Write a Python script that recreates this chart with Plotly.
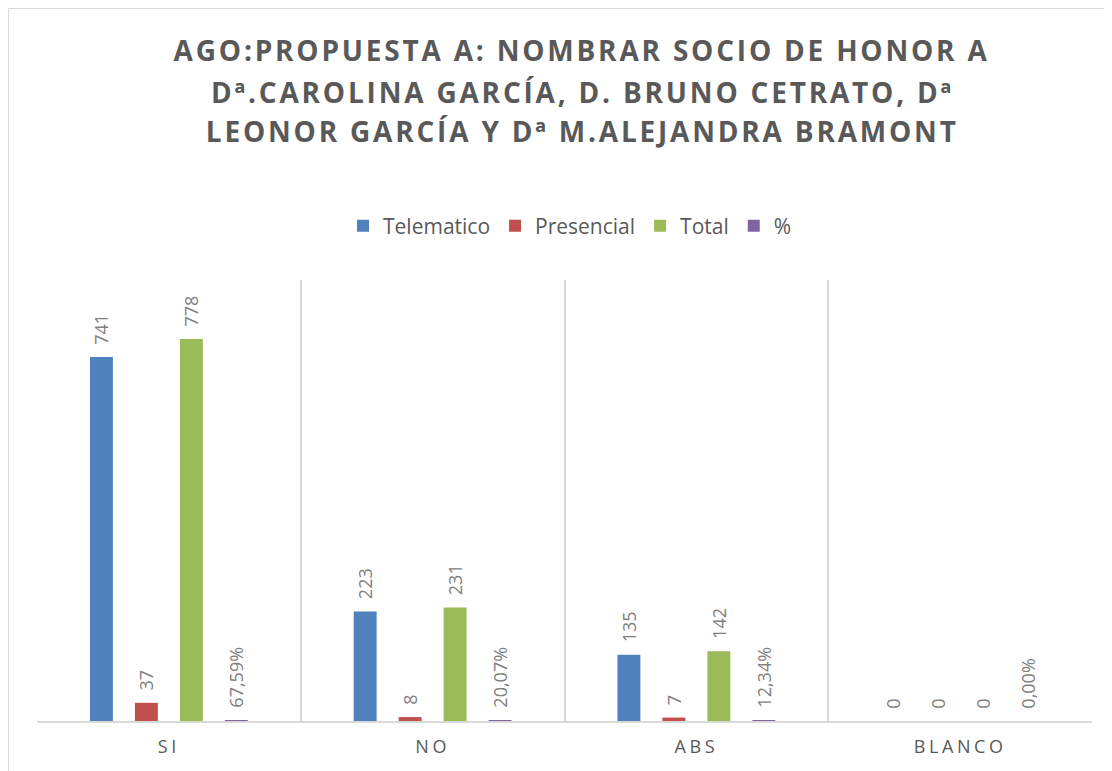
import plotly.graph_objects as go

categories = ["SI", "NO", "ABS", "BLANCO"]
telematico = [741, 223, 135, 0]
presencial = [37, 8, 7, 0]
total = [778, 231, 142, 0]
porcentaje = [0.6759, 0.2007, 0.1234, 0.0]

series_names = ["Telematico", "Presencial", "Total", "%"]
colors = ["#4f81bd", "#c0504d", "#9bbb59", "#8064a2"]

title_lines = ["AGO:PROPUESTA A: NOMBRAR SOCIO DE HONOR A",
               "Dª.CAROLINA GARCÍA, D. BRUNO CETRATO, Dª",
               "LEONOR GARCÍA Y Dª M.ALEJANDRA BRAMONT"]

OFF = 8  # default page body margin
W, H = 1112 - OFF, 771 - OFF
# plot area in screen pixels: x 37..1092, y 280..721
L, T = 37 - OFF, 280 - OFF
R = W - (1092 - OFF)
B = H - (721 - OFF)
pw, ph = W - L - R, H - T - B

def sx(px):
    return (px - OFF - L) / pw

def sy(py):
    return (H - B - (py - OFF)) / ph

pad = "\u00a0\u00a0"
fig = go.Figure()
for name, vals, col in zip(series_names, [telematico, presencial, total, porcentaje], colors):
    tmpl = pad + ("%{y:.2%}" if name == "%" else "%{y}")
    fig.add_trace(go.Bar(
        x=categories, y=vals, name=name,
        marker=dict(color=col, line=dict(width=0)),
        texttemplate=tmpl, textposition="outside", textangle=-90,
        constraintext="none", cliponaxis=False,
        textfont=dict(family="Open Sans", size=18, color="#808080"),
    ))

# chart border (top and left edges visible)
fig.add_shape(type="line", xref="paper", yref="paper",
              x0=sx(8.5), x1=sx(1200), y0=sy(8.5), y1=sy(8.5),
              line=dict(color="#d9d9d9", width=1))
fig.add_shape(type="line", xref="paper", yref="paper",
              x0=sx(8.5), x1=sx(8.5), y0=sy(8.5), y1=sy(900),
              line=dict(color="#d9d9d9", width=1))

for line, yc in zip(title_lines, [50, 92, 131]):
    fig.add_annotation(text=line, xref="paper", yref="paper",
                       x=sx(582), y=sy(yc), xanchor="center", yanchor="middle",
                       showarrow=False,
                       font=dict(family="Open Sans", size=28, color="#595959", weight="bold"))

fig.update_layout(
    width=W, height=H,
    margin=dict(l=L, r=R, t=T, b=B),
    paper_bgcolor="white", plot_bgcolor="white",
    separators=",.",
    barmode="group", bargap=0.318, bargroupgap=0.49,
    legend=dict(orientation="h", x=sx(570), xanchor="center",
                y=sy(226), yanchor="middle",
                font=dict(family="Open Sans", size=21, color="#595959"),
                traceorder="normal"),
    showlegend=True,
    xaxis=dict(tickson="boundaries", showgrid=True, gridcolor="#d9d9d9", gridwidth=2,
               showline=True, linecolor="#d9d9d9", linewidth=2, ticks="",
               tickfont=dict(family="Open Sans", size=18, color="#595959"),
               ticklabelstandoff=8),
    yaxis=dict(range=[0, 898], showgrid=False, showticklabels=False, zeroline=False,
               showline=False, ticks=""),
)

css_js = ("var s=document.createElement('style');"
          "s.innerHTML='.annotation-text{letter-spacing:2.8px}.xtick text{letter-spacing:3.6px}';"
          "document.head.appendChild(s);")

fig.write_html("out.html", post_script=css_js)
